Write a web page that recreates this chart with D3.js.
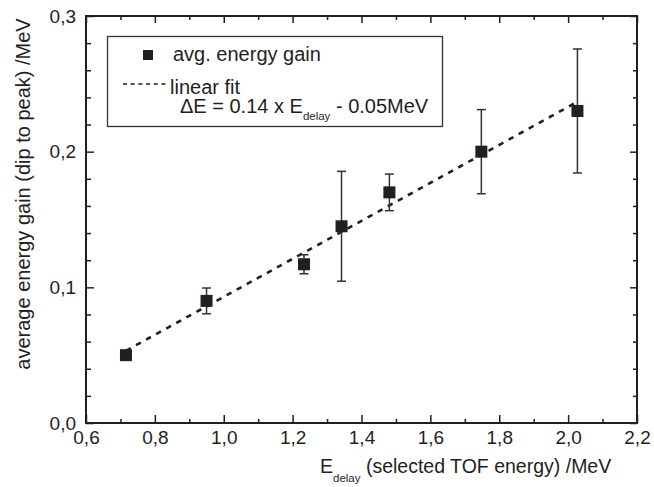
<!DOCTYPE html>
<html>
<head>
<meta charset="utf-8">
<script src="https://cdn.jsdelivr.net/npm/d3@7"></script>
<style>
  body { margin: 0; background: #fff; }
  svg { display: block; font-family: "Liberation Sans", Arial, sans-serif; }
</style>
</head>
<body>
<svg id="chart"></svg>
<script>
const energyDelay = [0.716, 0.950, 1.233, 1.342, 1.481, 1.748, 2.027];
const energyGain = [0.050, 0.090, 0.117, 0.145, 0.170, 0.200, 0.230];
const gainError = [0.0, 0.0095, 0.007, 0.0405, 0.0135, 0.031, 0.0457];
const fitSlope = 0.14;
const fitIntercept = -0.047;

const xMajor = [0.6, 0.8, 1.0, 1.2, 1.4, 1.6, 1.8, 2.0, 2.2];
const xMinor = [0.7, 0.9, 1.1, 1.3, 1.5, 1.7, 1.9, 2.1];
const yMajor = [0.0, 0.1, 0.2, 0.3];
const yMinor = [0.02, 0.04, 0.06, 0.08, 0.12, 0.14, 0.16, 0.18, 0.22, 0.24, 0.26, 0.28];

const width = 654;
const height = 487;
const ink = "#231f20";

const svg = d3.select("#chart").attr("width", width).attr("height", height);

const x = d3.scaleLinear().domain([0.6, 2.2]).range([86, 637]);
const y = d3.scaleLinear().domain([0, 0.3]).range([423, 16]);

const fmt = (d) => d.toFixed(1).replace(".", ",");

function styleAxis(g) {
  g.select(".domain").remove();
  g.selectAll("line").attr("stroke", ink).attr("stroke-width", 1.5);
  g.selectAll("text").attr("fill", ink).style("font-size", "19px");
}

// bottom axis (labels) + minor ticks
svg.append("g")
  .attr("transform", `translate(0,${y(0)})`)
  .call(d3.axisBottom(x).tickValues(xMajor).tickSizeInner(-8).tickSizeOuter(0).tickPadding(8).tickFormat(fmt))
  .call(styleAxis);
svg.append("g")
  .attr("transform", `translate(0,${y(0)})`)
  .call(d3.axisBottom(x).tickValues(xMinor).tickSizeInner(-4).tickSizeOuter(0).tickFormat(""))
  .call(styleAxis);
// top axis mirrored
svg.append("g")
  .attr("transform", `translate(0,${y(0.3)})`)
  .call(d3.axisTop(x).tickValues(xMajor).tickSizeInner(-7).tickSizeOuter(0).tickFormat(""))
  .call(styleAxis);
svg.append("g")
  .attr("transform", `translate(0,${y(0.3)})`)
  .call(d3.axisTop(x).tickValues(xMinor).tickSizeInner(-4).tickSizeOuter(0).tickFormat(""))
  .call(styleAxis);

// left axis
svg.append("g")
  .attr("transform", `translate(${x(0.6)},0)`)
  .call(d3.axisLeft(y).tickValues(yMajor).tickSizeInner(-8).tickSizeOuter(0).tickPadding(10).tickFormat(fmt))
  .call(styleAxis);
svg.append("g")
  .attr("transform", `translate(${x(0.6)},0)`)
  .call(d3.axisLeft(y).tickValues(yMinor).tickSizeInner(-5).tickSizeOuter(0).tickFormat(""))
  .call(styleAxis);
// right axis mirrored
svg.append("g")
  .attr("transform", `translate(${x(2.2)},0)`)
  .call(d3.axisRight(y).tickValues(yMajor).tickSizeInner(-7).tickSizeOuter(0).tickFormat(""))
  .call(styleAxis);
svg.append("g")
  .attr("transform", `translate(${x(2.2)},0)`)
  .call(d3.axisRight(y).tickValues(yMinor).tickSizeInner(-4).tickSizeOuter(0).tickFormat(""))
  .call(styleAxis);

// frame
svg.append("rect")
  .attr("x", x(0.6))
  .attr("y", y(0.3))
  .attr("width", x(2.2) - x(0.6))
  .attr("height", y(0) - y(0.3))
  .attr("fill", "none")
  .attr("stroke", ink)
  .attr("stroke-width", 2);

// fit line
const fitX = d3.extent(energyDelay);
svg.append("line")
  .attr("x1", x(fitX[0]))
  .attr("y1", y(fitSlope * fitX[0] + fitIntercept))
  .attr("x2", x(fitX[1]))
  .attr("y2", y(fitSlope * fitX[1] + fitIntercept))
  .attr("stroke", ink)
  .attr("stroke-width", 2.6)
  .attr("stroke-dasharray", "5.5,6");

const pts = energyDelay.map((d, i) => ({ x: d, y: energyGain[i], e: gainError[i] }));

// error bars
const eb = svg.append("g").selectAll("g").data(pts.filter((d) => d.e > 0)).join("g")
  .attr("stroke", "#333").attr("stroke-width", 1.5);
eb.append("line")
  .attr("x1", (d) => x(d.x)).attr("x2", (d) => x(d.x))
  .attr("y1", (d) => y(d.y - d.e)).attr("y2", (d) => y(d.y + d.e));
eb.append("line")
  .attr("x1", (d) => x(d.x) - 4.5).attr("x2", (d) => x(d.x) + 4.5)
  .attr("y1", (d) => y(d.y + d.e)).attr("y2", (d) => y(d.y + d.e));
eb.append("line")
  .attr("x1", (d) => x(d.x) - 4.5).attr("x2", (d) => x(d.x) + 4.5)
  .attr("y1", (d) => y(d.y - d.e)).attr("y2", (d) => y(d.y - d.e));

// markers
const ms = 12;
svg.append("g").selectAll("rect").data(pts).join("rect")
  .attr("x", (d) => x(d.x) - ms / 2)
  .attr("y", (d) => y(d.y) - ms / 2)
  .attr("width", ms)
  .attr("height", ms)
  .attr("fill", ink);

// axis titles
const xt = svg.append("text")
  .attr("x", 320).attr("y", 473)
  .attr("fill", ink).style("font-size", "19.5px");
xt.append("tspan").text("E");
xt.append("tspan").attr("dy", 9).style("font-size", "11.5px").text("delay");
xt.append("tspan").attr("dy", -9).text(" (selected TOF energy) /MeV");

svg.append("text")
  .attr("transform", "translate(30,194) rotate(-90)")
  .attr("text-anchor", "middle")
  .attr("fill", ink)
  .style("font-size", "20px")
  .text("average energy gain (dip to peak) /MeV");

// legend
const lg = svg.append("g");
lg.append("rect")
  .attr("x", 107.5).attr("y", 36.5)
  .attr("width", 335).attr("height", 90)
  .attr("fill", "#fff").attr("stroke", "#333").attr("stroke-width", 1.3);
lg.append("rect")
  .attr("x", 143).attr("y", 50).attr("width", 10).attr("height", 10)
  .attr("fill", ink);
lg.append("text")
  .attr("x", 173).attr("y", 61)
  .attr("fill", ink).style("font-size", "20px")
  .text("avg. energy gain");
lg.append("line")
  .attr("x1", 123).attr("x2", 169).attr("y1", 84).attr("y2", 84)
  .attr("stroke", ink).attr("stroke-width", 1.6)
  .attr("stroke-dasharray", "4,3.7");
lg.append("text")
  .attr("x", 170).attr("y", 94)
  .attr("fill", ink).style("font-size", "20px")
  .text("linear fit");
const eq = lg.append("text")
  .attr("x", 180).attr("y", 113)
  .attr("fill", ink).style("font-size", "20px");
eq.append("tspan").text("ΔE = 0.14 x E");
eq.append("tspan").attr("dy", 6.5).style("font-size", "11.5px").text("delay");
eq.append("tspan").attr("dy", -6.5).text(" - 0.05MeV");
</script>
</body>
</html>
